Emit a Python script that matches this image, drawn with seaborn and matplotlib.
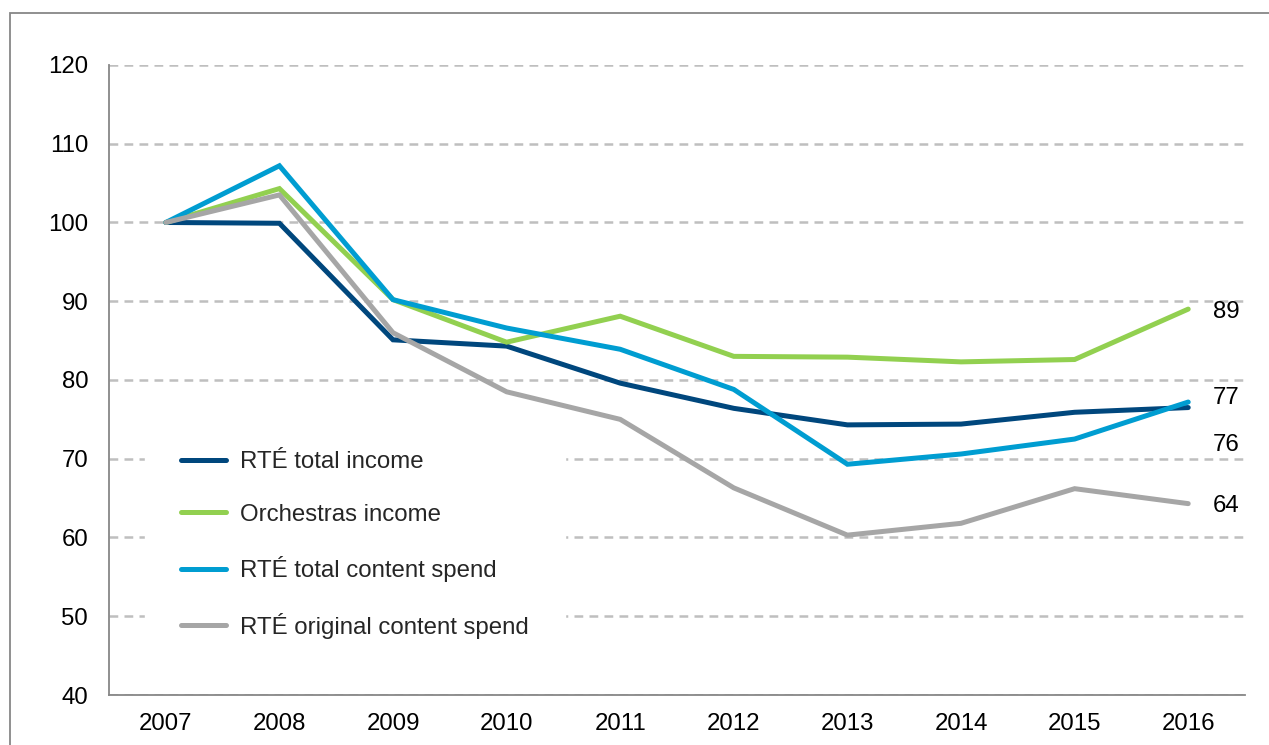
import pandas as pd
import matplotlib.pyplot as plt
import matplotlib.patches as mpatches
import matplotlib.lines as mlines
import seaborn as sns

# index values, 2007 = 100
years = [2007, 2008, 2009, 2010, 2011, 2012, 2013, 2014, 2015, 2016]
rte_total_income = [100, 99.9, 85.1, 84.3, 79.6, 76.4, 74.3, 74.4, 75.9, 76.5]
orchestras_income = [100, 104.3, 90.2, 84.8, 88.1, 83.0, 82.9, 82.3, 82.6, 89.0]
rte_total_content = [100, 107.2, 90.2, 86.6, 83.9, 78.8, 69.3, 70.6, 72.5, 77.2]
rte_original_content = [100, 103.5, 86.0, 78.5, 75.0, 66.3, 60.3, 61.8, 66.2, 64.3]

series_names = ['RTÉ total income', 'Orchestras income',
                'RTÉ total content spend', 'RTÉ original content spend']
end_labels = ['76', '89', '77', '64']
# label offsets (points) from the 2016 point
label_offsets = [(18, -27), (18, -2), (18, 3), (18, -2)]

colours = ['#00477D', '#92D050', '#009DD1', '#A6A6A6']

df = pd.DataFrame({
    'year': years * 4,
    'value': rte_total_income + orchestras_income + rte_total_content + rte_original_content,
    'series': [n for n in series_names for _ in years],
})

sns.set_style("white")
plt.rcParams['font.family'] = ['Liberation Sans', 'DejaVu Sans']

fig = plt.figure(figsize=(12.69, 7.45), dpi=100)
ax = fig.add_axes([0.0859, 0.0671, 0.8952, 0.8457])

# draw order so the overlaps look like the original
draw_order = [0, 1, 3, 2]
for i in draw_order:
    sub = df[df['series'] == series_names[i]]
    sns.lineplot(data=sub, x='year', y='value', color=colours[i], linewidth=3.6,
                 ax=ax, legend=False, solid_joinstyle='miter', zorder=3 + i)

# dashed horizontal gridlines
ax.set_yticks(range(40, 121, 10))
ax.yaxis.grid(True, color='#BFBFBF', linewidth=1.8, linestyle=(0, (3.5, 2.5)))
ax.xaxis.grid(False)
ax.set_axisbelow(True)

ax.set_xticks(years)
ax.set_xticklabels([str(y) for y in years])
ax.set_xlim(2006.5, 2016.5)
ax.set_ylim(40, 120)
ax.set_xlabel('')
ax.set_ylabel('')
ax.tick_params(axis='both', length=0, labelsize=17.3, colors='black')
ax.tick_params(axis='y', pad=15)
ax.tick_params(axis='x', pad=13)

for side in ['top', 'right']:
    ax.spines[side].set_visible(False)
for side in ['left', 'bottom']:
    ax.spines[side].set_color('#878787')
    ax.spines[side].set_linewidth(1.3)

# end-of-line value labels
vals_2016 = [rte_total_income[-1], orchestras_income[-1], rte_total_content[-1], rte_original_content[-1]]
for lab, v, off in zip(end_labels, vals_2016, label_offsets):
    ax.annotate(lab, (years[-1], v), textcoords='offset points', xytext=off,
                ha='left', va='center', fontsize=17.3, color='black')

legend_handles = [mlines.Line2D([0], [0], color=c, linewidth=3.6, solid_capstyle='round', label=n)
                  for c, n in zip(colours, series_names)]
leg = ax.legend(handles=legend_handles, loc='upper left', bbox_to_anchor=(0.032, 0.444),
                borderaxespad=0, frameon=True, fontsize=17.3, handlelength=1.85,
                handletextpad=0.6, labelspacing=1.27, borderpad=1.5)
leg.get_frame().set_facecolor('white')
leg.get_frame().set_edgecolor('white')
leg.get_frame().set_alpha(1)
leg.get_frame().set_boxstyle('square', pad=0)
leg.set_zorder(10)

# outer chart frame
frame = mpatches.Rectangle((0.0079, -0.5), 2, 0.9826 + 0.5, transform=fig.transFigure,
                           fill=False, edgecolor='#878787', linewidth=1.3, clip_on=False)
fig.patches.append(frame)

plt.savefig('out.png', dpi=100, facecolor='white')
